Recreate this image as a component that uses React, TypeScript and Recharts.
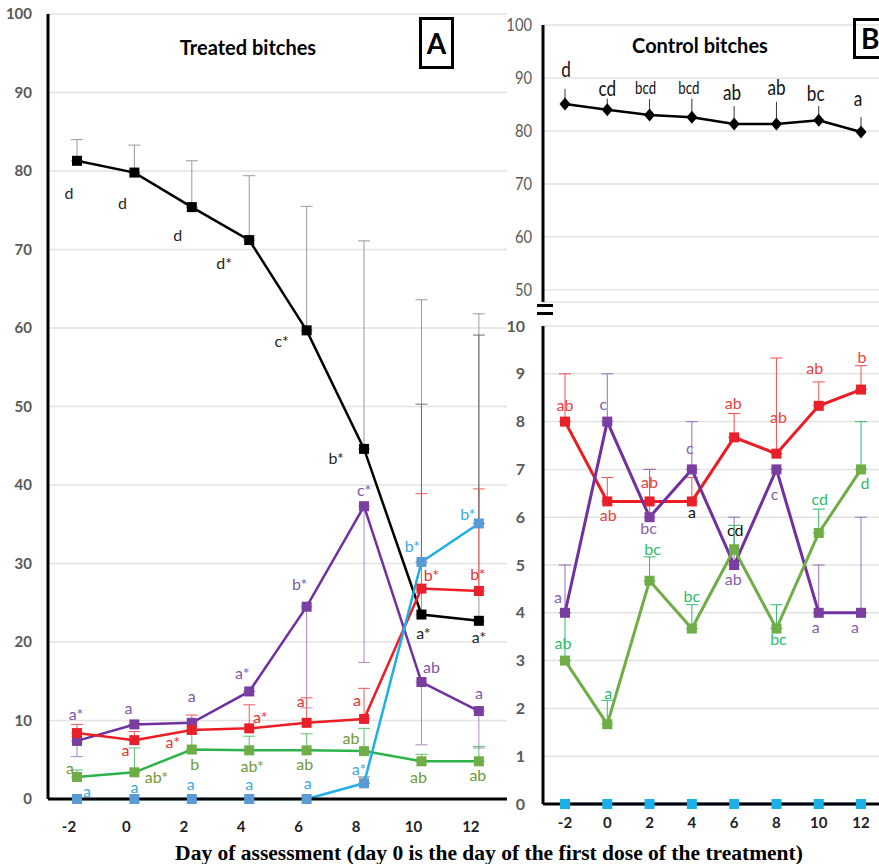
import React from 'react';
import { LineChart, Line, XAxis, YAxis, CartesianGrid, ErrorBar } from 'recharts';

const days = [-2, 0, 2, 4, 6, 8, 10, 12];

// Panel A - treated bitches
const treatedBlack = [81.3, 79.8, 75.4, 71.2, 59.7, 44.6, 23.5, 22.7];
const treatedBlackErrUp = [2.7, 3.5, 5.9, 8.2, 15.8, 26.5, 40.1, 39.1];
const treatedPurple = [7.4, 9.5, 9.7, 13.7, 24.5, 37.3, 14.9, 11.2];
const treatedPurpleErrDown = [2.0, 0, 0, 0, 12.9, 19.9, 8.0, 4.7];
const treatedRed = [8.4, 7.5, 8.8, 9.0, 9.7, 10.2, 26.8, 26.5];
const treatedRedErrUp = [1.1, 1.1, 1.9, 3.0, 3.2, 3.9, 12.1, 13.0];
const treatedGreen = [2.8, 3.4, 6.3, 6.2, 6.2, 6.1, 4.8, 4.8];
const treatedGreenErrUp = [0.9, 3.1, 2.0, 1.8, 2.1, 2.9, 0.9, 1.9];
const treatedBlue = [0, 0, 0, 0, 0, 2.0, 30.2, 35.1];
const treatedBlueErrUp = [0, 0, 0, 0, 0, 0.8, 20.1, 24.0];

const treatedBlackLbl = ['d', 'd', 'd', 'd*', 'c*', 'b*', 'a*', 'a*'];
const treatedPurpleLbl = ['a*', 'a', 'a', 'a*', 'b*', 'c*', 'ab', 'a'];
const treatedRedLbl = ['', 'a', 'a*', 'a*', 'a', 'a', 'b*', 'b*'];
const treatedGreenLbl = ['a', 'ab*', 'b', 'ab*', 'ab', 'ab', 'ab', 'ab'];
const treatedBlueLbl = ['a', 'a', 'a', 'a', 'a', 'a*', 'b*', 'b*'];

// Panel B - control bitches
const controlTop = [85.1, 84.0, 83.0, 82.6, 81.3, 81.3, 82.0, 79.8];
const controlTopErrUp = [2.8, 2.1, 3.0, 3.5, 3.4, 4.2, 2.7, 2.8];
const controlRed = [8.0, 6.33, 6.33, 6.33, 7.67, 7.33, 8.33, 8.67];
const controlRedErrUp = [1.0, 0.5, 0.67, 0.5, 0.5, 2.0, 0.5, 0.5];
const controlPurple = [4, 8, 6, 7, 5, 7, 4, 4];
const controlPurpleErrUp = [1, 1, 1, 1, 1, 0, 1, 2];
const controlGreen = [3, 1.67, 4.67, 3.67, 5.33, 3.67, 5.67, 7];
const controlGreenErrUp = [1, 0.5, 0.5, 0.5, 0.5, 0.5, 0.5, 1];
const controlBlue = [0, 0, 0, 0, 0, 0, 0, 0];

const controlTopLbl = ['d', 'cd', 'bcd', 'bcd', 'ab', 'ab', 'bc', 'a'];
const controlRedLbl = ['ab', 'ab', 'ab', 'a', 'ab', 'ab', 'ab', 'b'];
const controlPurpleLbl = ['a', 'c', 'bc', 'c', 'ab', 'c', 'a', 'a'];
const controlGreenLbl = ['ab', 'a', 'bc', 'bc', 'cd', 'bc', 'cd', 'd'];

const ticksA = [0, 10, 20, 30, 40, 50, 60, 70, 80, 90, 100];
const ticksTop = [50, 60, 70, 80, 90, 100];
const ticksLow = [0, 1, 2, 3, 4, 5, 6, 7, 8, 9, 10];

// label placement relative to each point (layout only)
type Off = [number, number];
const offABlack: Off[] = [[-8, 32], [-12, 30], [-14, 27], [-25, 22], [-25, 10], [-28, 9], [2, 18], [0, 16]];
const offAPurple: Off[] = [[-1, -27], [-6, -17], [0, -27], [-7, -19], [-7, -23], [0, -17], [10, -16], [0, -19]];
const offARed: Off[] = [[0, 0], [-9, 9], [-19, 12], [11, -12], [-6, -22], [-7, -19], [10, -14], [-1, -17]];
const offAGreen: Off[] = [[-7, -10], [22, 4], [3, 14], [3, 15], [-2, 13], [-13, -14], [-3, 15], [-1, 13]];
const offABlue: Off[] = [[10, -9], [0, -13], [-1, -16], [0, -16], [1, -17], [-5, -15], [-9, -16], [-11, -10]];
const offBTop: Off[] = [[1, -35], [0, -22], [-4, -28], [-3, -30], [-2, -32], [0, -37], [-3, -28], [-3, -34]];
const sizeBTop = [22, 22, 17, 17, 22, 22, 22, 22];
const offBRed: Off[] = [[0, -17], [1, 13], [0, -20], [0, 10], [-1, -35], [2, -37], [-4, -38], [1, -33]];
const colBRed = [null, null, null, '#111', null, null, null, null];
const offBPurple: Off[] = [[-7, -16], [-4, -18], [-1, 10], [-2, -22], [-1, 13], [-2, 24], [-3, 14], [-6, 14]];
const offBGreen: Off[] = [[-2, -18], [1, -32], [3, -32], [0, -33], [1, -20], [2, 10], [1, -34], [4, 13]];
const colBGreen = [null, null, null, null, '#111', null, null, null];

const FONT = 'Lato, "Open Sans", sans-serif';

const tableA = days.map((day, i) => ({
  day,
  black: treatedBlack[i],
  blackErr: [0, treatedBlackErrUp[i]],
  purple: treatedPurple[i],
  purpleErr: [treatedPurpleErrDown[i], 0],
  red: treatedRed[i],
  redErr: [0, treatedRedErrUp[i]],
  green: treatedGreen[i],
  greenErr: [0, treatedGreenErrUp[i]],
  blue: treatedBlue[i],
  blueErr: [0, treatedBlueErrUp[i]],
}));

const tableB = days.map((day, i) => ({
  day,
  top: controlTop[i],
  topErr: [0, controlTopErrUp[i]],
  red: controlRed[i],
  redErr: [0, controlRedErrUp[i]],
  purple: controlPurple[i],
  purpleErr: [0, controlPurpleErrUp[i]],
  green: controlGreen[i],
  greenErr: [0, controlGreenErrUp[i]],
  blue: controlBlue[i],
}));

interface DotOpts {
  shape?: 'square' | 'diamond';
  fill: string;
  size?: number;
  labels?: string[];
  offsets?: Off[];
  color?: string;
  colors?: (string | null)[];
  fontSize?: number | number[];
  squeeze?: number;
}

function makeDot(o: DotOpts) {
  return (p: any) => {
    const { cx, cy, index } = p;
    if (cx == null || cy == null) return <g key={`d-${index}`} />;
    const s = o.size ?? 10;
    const h = s / 2;
    const lab = o.labels?.[index];
    const off = o.offsets?.[index] ?? [0, 0];
    const fs = Array.isArray(o.fontSize) ? o.fontSize[index] : o.fontSize ?? 16;
    return (
      <g key={`d-${index}`}>
        {o.shape === 'diamond' ? (
          <polygon
            points={`${cx},${cy - h - 1} ${cx + h},${cy} ${cx},${cy + h + 1} ${cx - h},${cy}`}
            fill={o.fill}
          />
        ) : (
          <rect x={cx - h} y={cy - h} width={s} height={s} fill={o.fill} />
        )}
        {lab ? (
          <text
            transform={`translate(${cx + off[0]},${cy + off[1]}) scale(${o.squeeze ?? 1},1)`}
            textAnchor="middle"
            dominantBaseline="central"
            fontSize={fs}
            fontFamily={FONT}
            fill={o.colors?.[index] || o.color}
          >
            {lab}
          </text>
        ) : null}
      </g>
    );
  };
}

const dayTick = (dx: number) => (p: any) => (
  <text
    x={p.x + dx}
    y={p.y}
    dy={11}
    textAnchor="middle"
    fontSize={15}
    fontWeight={700}
    fontFamily={FONT}
    fill="#222"
  >
    {p.payload.value}
  </text>
);

const narrowTick = (p: any) => (
  <text
    transform={`translate(${p.x},${p.y}) scale(0.82,1)`}
    dy={6}
    textAnchor="end"
    fontSize={18}
    fontFamily={FONT}
    fill="#595959"
  >
    {p.payload.value}
  </text>
);

const axisLine = { stroke: '#000', strokeWidth: 3 };

export default function App() {
  return (
    <div
      style={{
        position: 'absolute',
        left: 0,
        top: 0,
        width: 879,
        height: 864,
        overflow: 'hidden',
        background: '#fff',
        fontFamily: FONT,
      }}
    >
      {/* Panel A */}
      <div style={{ position: 'absolute', left: 0, top: 0 }}>
        <LineChart width={510} height={864} data={tableA} margin={{ top: 14, right: 3, bottom: 35, left: 0 }}>
          <CartesianGrid vertical={false} stroke="#E2E2E2" strokeWidth={1.5} />
          <XAxis
            type="number"
            dataKey="day"
            domain={[-3.01, 12.98]}
            ticks={days}
            height={30}
            axisLine={axisLine}
            tickLine={false}
            tickSize={6}
            tickMargin={16}
            tick={dayTick(-8)}
          />
          <YAxis
            domain={[0, 100]}
            ticks={ticksA}
            width={48}
            axisLine={axisLine}
            tickLine={false}
            tickSize={6}
            tickMargin={10}
            tick={{ fill: '#595959', fontSize: 15, fontWeight: 700, fontFamily: FONT }}
          />
          <Line
            dataKey="black"
            stroke="#000"
            strokeWidth={2.5}
            isAnimationActive={false}
            dot={makeDot({ fill: '#000', labels: treatedBlackLbl, offsets: offABlack, color: '#262626' })}
          >
            <ErrorBar dataKey="blackErr" direction="y" width={6} stroke="#9A9A9A" strokeWidth={1} />
          </Line>
          <Line
            dataKey="purple"
            stroke="#7030A0"
            strokeWidth={2.5}
            isAnimationActive={false}
            dot={makeDot({ fill: '#7A3DA0', labels: treatedPurpleLbl, offsets: offAPurple, color: '#8058A8' })}
          >
            <ErrorBar dataKey="purpleErr" direction="y" width={6} stroke="#A98BC4" strokeWidth={1} />
          </Line>
          <Line
            dataKey="red"
            stroke="#EE1C25"
            strokeWidth={2.5}
            isAnimationActive={false}
            dot={makeDot({ fill: '#E8202A', labels: treatedRedLbl, offsets: offARed, color: '#EE3030' })}
          >
            <ErrorBar dataKey="redErr" direction="y" width={6} stroke="#F05A5A" strokeWidth={1} />
          </Line>
          <Line
            dataKey="green"
            stroke="#2FB14B"
            strokeWidth={2.5}
            isAnimationActive={false}
            dot={makeDot({ fill: '#70AD47', labels: treatedGreenLbl, offsets: offAGreen, color: '#6E9A3A' })}
          >
            <ErrorBar dataKey="greenErr" direction="y" width={6} stroke="#5CC070" strokeWidth={1} />
          </Line>
          <Line
            dataKey="blue"
            stroke="#1CB0E8"
            strokeWidth={2.5}
            isAnimationActive={false}
            dot={makeDot({ fill: '#5B9BD5', labels: treatedBlueLbl, offsets: offABlue, color: '#3DA9E0' })}
          >
            <ErrorBar dataKey="blueErr" direction="y" width={6} stroke="#707070" strokeWidth={1} />
          </Line>
        </LineChart>
      </div>

      {/* Panel B upper */}
      <div style={{ position: 'absolute', left: 490, top: 0 }}>
        <LineChart width={389} height={310} data={tableB} margin={{ top: 25, right: 0, bottom: 8, left: 0 }}>
          <CartesianGrid vertical={false} stroke="#E2E2E2" strokeWidth={1.5} />
          <XAxis type="number" dataKey="day" domain={[-3.04, 12.85]} hide />
          <YAxis
            domain={[47.7, 100]}
            ticks={ticksTop}
            width={53}
            axisLine={axisLine}
            tickLine={false}
            tickSize={6}
            tickMargin={5}
            tick={narrowTick}
          />
          <Line
            dataKey="top"
            stroke="#000"
            strokeWidth={2.5}
            isAnimationActive={false}
            dot={makeDot({
              shape: 'diamond',
              fill: '#000',
              size: 11,
              labels: controlTopLbl,
              offsets: offBTop,
              color: '#111',
              fontSize: sizeBTop,
              squeeze: 0.78,
            })}
          >
            <ErrorBar dataKey="topErr" direction="y" width={0} stroke="#333" strokeWidth={1} />
          </Line>
        </LineChart>
      </div>

      {/* axis break */}
      <div style={{ position: 'absolute', left: 537, top: 304, width: 16, height: 3, background: '#000' }} />
      <div style={{ position: 'absolute', left: 537, top: 312, width: 16, height: 3, background: '#000' }} />

      {/* Panel B lower */}
      <div style={{ position: 'absolute', left: 490, top: 300 }}>
        <LineChart width={389} height={564} data={tableB} margin={{ top: 26, right: 0, bottom: 30, left: 0 }}>
          <CartesianGrid vertical={false} stroke="#E2E2E2" strokeWidth={1.5} />
          <XAxis
            type="number"
            dataKey="day"
            domain={[-3.04, 12.85]}
            ticks={days}
            height={30}
            axisLine={axisLine}
            tickLine={false}
            tickSize={6}
            tickMargin={7}
            tick={dayTick(0)}
          />
          <YAxis
            domain={[0, 10]}
            ticks={ticksLow}
            width={53}
            axisLine={axisLine}
            tickLine={false}
            tickSize={6}
            tickMargin={12}
            tick={{ fill: '#595959', fontSize: 16, fontWeight: 700, fontFamily: FONT }}
          />
          <Line
            dataKey="red"
            stroke="#ED1C24"
            strokeWidth={3}
            isAnimationActive={false}
            dot={makeDot({ fill: '#E8202A', labels: controlRedLbl, offsets: offBRed, colors: colBRed, color: '#F04040' })}
          >
            <ErrorBar dataKey="redErr" direction="y" width={6} stroke="#F05050" strokeWidth={1} />
          </Line>
          <Line
            dataKey="purple"
            stroke="#7030A0"
            strokeWidth={3}
            isAnimationActive={false}
            dot={makeDot({ fill: '#7A3DA0', labels: controlPurpleLbl, offsets: offBPurple, color: '#8A5CB0' })}
          >
            <ErrorBar dataKey="purpleErr" direction="y" width={6} stroke="#9670B8" strokeWidth={1} />
          </Line>
          <Line
            dataKey="green"
            stroke="#70AD47"
            strokeWidth={3}
            isAnimationActive={false}
            dot={makeDot({ fill: '#70AD47', labels: controlGreenLbl, offsets: offBGreen, colors: colBGreen, color: '#2EBD6B' })}
          >
            <ErrorBar dataKey="greenErr" direction="y" width={6} stroke="#2EBD6B" strokeWidth={1} />
          </Line>
          <Line
            dataKey="blue"
            stroke="#5B9BD5"
            strokeWidth={3}
            isAnimationActive={false}
            dot={makeDot({ fill: '#1CB0E8' })}
          />
        </LineChart>
      </div>

      {/* titles and panel boxes */}
      <div style={{ position: 'absolute', left: 148, top: 35, width: 200, textAlign: 'center', fontWeight: 700, fontSize: 20 }}>
        Treated bitches
      </div>
      <div style={{ position: 'absolute', left: 600, top: 33, width: 200, textAlign: 'center', fontWeight: 700, fontSize: 20 }}>
        Control bitches
      </div>
      <div
        style={{
          position: 'absolute',
          left: 419,
          top: 17,
          width: 35,
          height: 52,
          boxSizing: 'border-box',
          border: '3px solid #000',
          fontWeight: 700,
          fontSize: 28,
          lineHeight: '46px',
          textAlign: 'center',
        }}
      >
        A
      </div>
      <div
        style={{
          position: 'absolute',
          left: 853,
          top: 18,
          width: 40,
          height: 41,
          boxSizing: 'border-box',
          border: '3px solid #000',
          fontWeight: 700,
          fontSize: 28,
          lineHeight: '35px',
          paddingLeft: 5,
        }}
      >
        B
      </div>
      <div
        style={{
          position: 'absolute',
          left: 489,
          top: 841,
          transform: 'translateX(-50%)',
          whiteSpace: 'nowrap',
          fontFamily: '"Liberation Serif", "DejaVu Serif", serif',
          fontWeight: 700,
          fontSize: 21.5,
          lineHeight: '24px',
        }}
      >
        Day of assessment (day 0 is the day of the first dose of the treatment)
      </div>
    </div>
  );
}
